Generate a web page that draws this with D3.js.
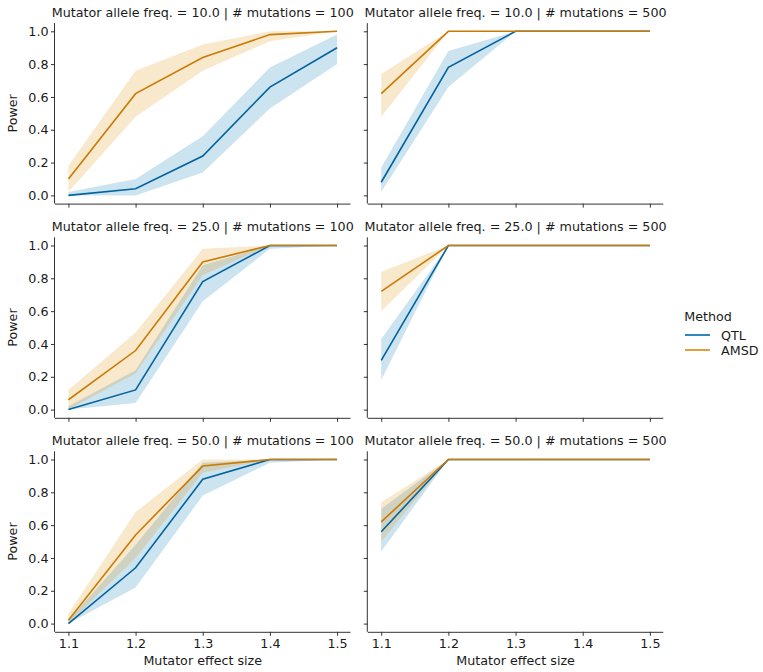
<!DOCTYPE html>
<html>
<head>
<meta charset="utf-8">
<script src="https://cdn.jsdelivr.net/npm/d3@7"></script>
<style>
  body { margin: 0; background: #fff; }
  svg { font-family: "DejaVu Sans", sans-serif; }
</style>
</head>
<body>
<div id="container"></div>
<script>
// effect sizes on the x axis
var effectSizes = [1.1, 1.2, 1.3, 1.4, 1.5];
var yTicks = [0.0, 0.2, 0.4, 0.6, 0.8, 1.0];
var methods = ["QTL", "AMSD"];
var freqs = ["10.0", "25.0", "50.0"];
var mutationCounts = ["100", "500"];

// power per panel (row = allele freq, col = # mutations)
var qtlMean = [
  [[0.00, 0.04, 0.24, 0.66, 0.90], [0.08, 0.78, 1.00, 1.00, 1.00]],
  [[0.00, 0.12, 0.78, 1.00, 1.00], [0.30, 1.00, 1.00, 1.00, 1.00]],
  [[0.00, 0.34, 0.88, 1.00, 1.00], [0.56, 1.00, 1.00, 1.00, 1.00]]
];
var qtlLow = [
  [[0.00, 0.00, 0.14, 0.53, 0.80], [0.02, 0.66, 1.00, 1.00, 1.00]],
  [[0.00, 0.04, 0.66, 0.98, 1.00], [0.18, 1.00, 1.00, 1.00, 1.00]],
  [[0.00, 0.22, 0.78, 0.98, 1.00], [0.44, 1.00, 1.00, 1.00, 1.00]]
];
var qtlHigh = [
  [[0.02, 0.10, 0.36, 0.78, 0.98], [0.17, 0.88, 1.00, 1.00, 1.00]],
  [[0.02, 0.24, 0.88, 1.00, 1.00], [0.43, 1.00, 1.00, 1.00, 1.00]],
  [[0.02, 0.48, 0.98, 1.00, 1.00], [0.70, 1.00, 1.00, 1.00, 1.00]]
];
var amsdMean = [
  [[0.10, 0.62, 0.84, 0.98, 1.00], [0.62, 1.00, 1.00, 1.00, 1.00]],
  [[0.06, 0.36, 0.90, 1.00, 1.00], [0.72, 1.00, 1.00, 1.00, 1.00]],
  [[0.02, 0.54, 0.96, 1.00, 1.00], [0.62, 1.00, 1.00, 1.00, 1.00]]
];
var amsdLow = [
  [[0.02, 0.48, 0.76, 0.94, 1.00], [0.48, 1.00, 1.00, 1.00, 1.00]],
  [[0.00, 0.22, 0.82, 1.00, 1.00], [0.60, 1.00, 1.00, 1.00, 1.00]],
  [[0.00, 0.40, 0.92, 1.00, 1.00], [0.50, 1.00, 1.00, 1.00, 1.00]]
];
var amsdHigh = [
  [[0.18, 0.76, 0.92, 1.00, 1.00], [0.74, 1.00, 1.00, 1.00, 1.00]],
  [[0.12, 0.47, 0.98, 1.00, 1.00], [0.84, 1.00, 1.00, 1.00, 1.00]],
  [[0.06, 0.68, 1.00, 1.00, 1.00], [0.74, 1.00, 1.00, 1.00, 1.00]]
];

var colors = {
  QTL: {line: "#04639e", fill: "#0173B2", legend: "#1a78b6"},
  AMSD: {line: "#c97b06", fill: "#DE8F05", legend: "#e0952a"}
};

var width = 763, height = 672;
var panelW = 295.5, panelH = 180.5;
var colX = [55, 367.8];
var rowY = [23.1, 237.3, 451.3];
var fontSize = "12.7px";

var svg = d3.select("#container").append("svg")
    .attr("width", width)
    .attr("height", height);

var x = d3.scaleLinear().domain([1.08, 1.52]).range([0, panelW]);
var y = d3.scaleLinear().domain([-0.05, 1.05]).range([panelH, 0]);

var series = {
  QTL: {mean: qtlMean, low: qtlLow, high: qtlHigh},
  AMSD: {mean: amsdMean, low: amsdLow, high: amsdHigh}
};

freqs.forEach(function(freq, r) {
  mutationCounts.forEach(function(mut, c) {
    var g = svg.append("g")
        .attr("transform", "translate(" + colX[c] + "," + rowY[r] + ")");

    g.append("text")
      .attr("x", panelW / 2)
      .attr("y", -6)
      .attr("text-anchor", "middle")
      .attr("font-size", fontSize)
      .attr("fill", "#1a1a1a")
      .text("Mutator allele freq. = " + freq + " | # mutations = " + mut);

    methods.forEach(function(m) {
      var s = series[m];
      var pts = effectSizes.map(function(e, i) {
        return {x: e, m: s.mean[r][c][i], lo: s.low[r][c][i], hi: s.high[r][c][i]};
      });
      g.append("path")
        .datum(pts)
        .attr("fill", colors[m].fill)
        .attr("fill-opacity", 0.2)
        .attr("d", d3.area()
          .x(function(d) { return x(d.x); })
          .y0(function(d) { return y(d.lo); })
          .y1(function(d) { return y(d.hi); }));
    });
    methods.forEach(function(m) {
      var s = series[m];
      var pts = effectSizes.map(function(e, i) { return {x: e, m: s.mean[r][c][i]}; });
      g.append("path")
        .datum(pts)
        .attr("fill", "none")
        .attr("stroke", colors[m].line)
        .attr("stroke-width", 1.6)
        .attr("d", d3.line()
          .x(function(d) { return x(d.x); })
          .y(function(d) { return y(d.m); }));
    });

    var xAxis = d3.axisBottom(x).tickValues(effectSizes).tickSize(4).tickPadding(3)
        .tickFormat(r === 2 ? d3.format(".1f") : "");
    var yAxis = d3.axisLeft(y).tickValues(yTicks).tickSize(4).tickPadding(2.5)
        .tickFormat(c === 0 ? d3.format(".1f") : "");

    var gx = g.append("g").attr("transform", "translate(0," + panelH + ")").call(xAxis);
    var gy = g.append("g").call(yAxis);
    [gx, gy].forEach(function(a) {
      a.selectAll(".domain").attr("stroke", "#333").attr("stroke-width", 1);
      a.selectAll(".tick line").attr("stroke", "#333").attr("stroke-width", 1);
      a.selectAll(".tick text").attr("font-size", fontSize).attr("fill", "#1a1a1a")
        .attr("font-family", "DejaVu Sans, sans-serif");
    });
    // matplotlib style: straight spines without the end caps
    gx.select(".domain").attr("d", "M0,0.5H" + panelW);
    gy.select(".domain").attr("d", "M-0.5,0V" + panelH);

    if (c === 0) {
      g.append("text")
        .attr("transform", "translate(-38," + (panelH / 2) + ") rotate(-90)")
        .attr("text-anchor", "middle")
        .attr("font-size", fontSize)
        .attr("fill", "#1a1a1a")
        .text("Power");
    }
    if (r === 2) {
      g.append("text")
        .attr("x", panelW / 2)
        .attr("y", panelH + 33)
        .attr("text-anchor", "middle")
        .attr("font-size", fontSize)
        .attr("fill", "#1a1a1a")
        .text("Mutator effect size");
    }
  });
});

// legend
var leg = svg.append("g").attr("transform", "translate(685,317)");
leg.append("text")
  .attr("x", 23).attr("y", 4)
  .attr("text-anchor", "middle")
  .attr("font-size", fontSize)
  .attr("fill", "#1a1a1a")
  .text("Method");
methods.forEach(function(m, i) {
  var ly = 18 + i * 15;
  leg.append("line")
    .attr("x1", 0).attr("x2", 25)
    .attr("y1", ly).attr("y2", ly)
    .attr("stroke", colors[m].legend)
    .attr("stroke-width", 1.8);
  leg.append("text")
    .attr("x", 36).attr("y", ly + 4.5)
    .attr("font-size", fontSize)
    .attr("fill", "#1a1a1a")
    .text(m);
});
</script>
</body>
</html>
